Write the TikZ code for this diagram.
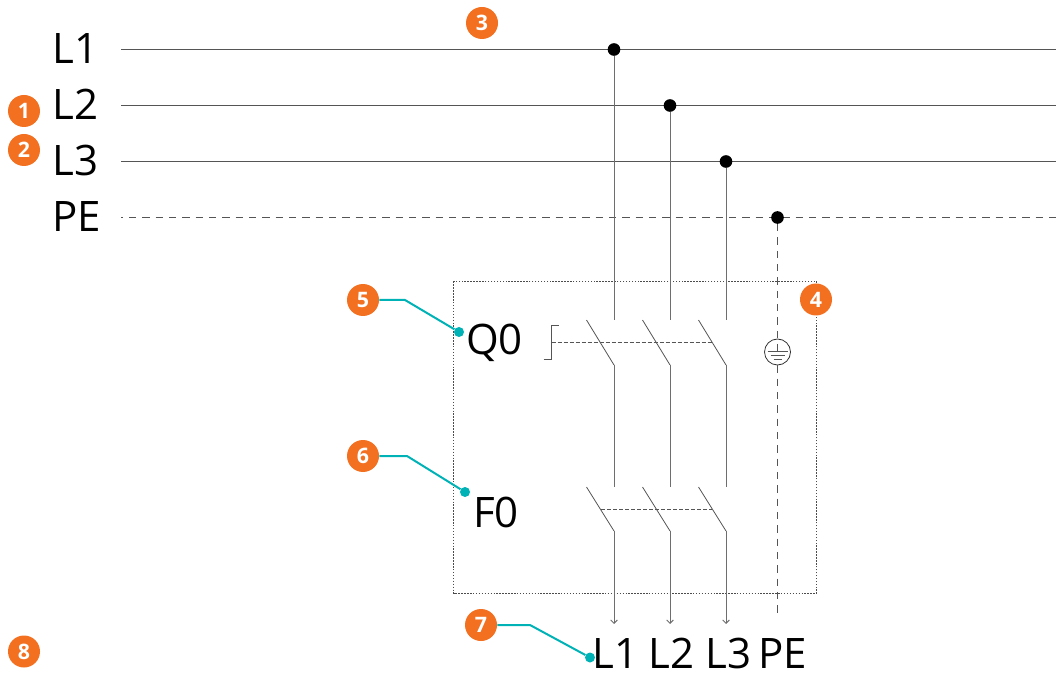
\documentclass[tikz,border=0pt]{standalone}
\usepackage{fontspec}
\setmainfont{Open Sans}
\usetikzlibrary{arrows.meta,calc}
\definecolor{badge}{HTML}{F37021}
\definecolor{teal}{HTML}{00B2B5}
\definecolor{wire}{HTML}{555555}
\tikzset{
  x=0.75pt,y=-0.75pt,
  bus/.style={draw=wire,line width=0.75pt},
  wirel/.style={draw=wire!85,line width=0.75pt},
  blade/.style={draw=wire,line width=0.6pt},
  dashl/.style={draw=wire,line width=0.5pt,dash pattern=on 5.5pt off 4.5pt},
  link/.style={draw=wire,line width=0.5pt,dash pattern=on 3pt off 1.5pt},
  dotl/.style={draw=black!70,line width=0.5pt,dash pattern=on 1.1pt off 1.1pt},
  junction/.style={circle,fill=black,inner sep=0pt,minimum size=9.5pt},
  anchorpt/.style={circle,fill=teal,inner sep=0pt,minimum size=7.5pt},
  badgec/.style={circle,fill=badge,text=white,inner sep=0pt,minimum size=24pt,font=\fontsize{16pt}{16pt}\selectfont\bfseries},
  lead/.style={draw=teal,line width=1.5pt},
  lbl/.style={inner sep=0pt,anchor=base west,text=black,font=\fontsize{31.5pt}{32pt}\selectfont},
}
\begin{document}
\begin{tikzpicture}
\useasboundingbox (0,0) rectangle (1056,673);
% labels
\node[lbl] (tL1) at (52,63.5) {L1};
\node[lbl] (tL2) at (52,119.5) {L2};
\node[lbl] (tL3) at (52,175.5) {L3};
\node[lbl] (tPE) at (52,231.5) {PE};
\node[lbl] (tQ) at (466,354) {Q0};
\node[lbl] (tF) at (473,527) {F0};
\node[lbl] (bL1) at (592,668.5) {L1};
\node[lbl] (bL2) at (648,668.5) {L2};
\node[lbl] (bL3) at (705,668.5) {L3};
\node[lbl] (bPE) at (758,668.5) {PE};
% bus ends
\coordinate (a1) at (121,49.5); \coordinate (b1) at (1056,49.5);
\coordinate (a2) at (121,105.5); \coordinate (b2) at (1056,105.5);
\coordinate (a3) at (121,161.5); \coordinate (b3) at (1056,161.5);
\coordinate (a4) at (121,217.5); \coordinate (b4) at (1056,217.5);
\draw[bus] (a1) -- (b1);
\draw[bus] (a2) -- (b2);
\draw[bus] (a3) -- (b3);
\draw[dashl,dash phase=4pt] (a4) -- (b4);
% enclosure
\draw[dotl] (453.5,281.5) rectangle (816.5,593.5);
% junctions
\node[junction] (j1) at (614,49.5) {};
\node[junction] (j2) at (670,105.5) {};
\node[junction] (j3) at (726,161.5) {};
\node[junction] (j4) at (777.5,217.5) {};
% poles
\foreach \n/\x in {1/614,2/670,3/726}{
  \coordinate (u\n) at (\x,320);
  \coordinate (s\n) at (\x-27.5,320);
  \coordinate (m\n) at (\x,365);
  \coordinate (v\n) at (\x,487);
  \coordinate (t\n) at (\x-27.5,487);
  \coordinate (w\n) at (\x,531);
  \coordinate (e\n) at (\x,624);
  \draw[wirel] (j\n) -- (u\n);
  \draw[blade] (s\n) -- (m\n);
  \draw[wirel] (m\n) -- (v\n);
  \draw[blade] (t\n) -- (w\n);
  \draw[wirel,-{Straight Barb[length=2.5pt,width=5pt]}] (w\n) -- (e\n);
}
% Q0 mechanical link
\coordinate (h1) at (543.5,359.5);
\coordinate (h2) at (551.5,359.5);
\coordinate (h3) at (551.5,325.5);
\coordinate (h4) at (558.5,325.5);
\coordinate (hm) at (551.5,342.5);
\coordinate (hr) at (711.5,342.5);
\draw[blade] (h1) -- (h2) -- (h3) -- (h4);
\draw[link] (hm) -- (hr);
% F0 link
\coordinate (fl) at (601,509.5);
\coordinate (fr) at (711.5,509.5);
\draw[link] (fl) -- (fr);
% PE
\node[circle,draw=black!80,line width=0.6pt,inner sep=0pt,minimum size=19.5pt] (gnd) at (777.5,352) {};
\coordinate (pb) at (777.5,618);
\draw[dashl] (j4) -- (gnd);
\draw[dashl] (gnd) -- (pb);
\coordinate (g0) at (777.5,344);
\coordinate (g1) at (777.5,351);
\draw[blade] (g0) -- (g1);
\draw[blade] (767.5,351.5) -- (787.5,351.5);
\draw[blade] (770.5,355.5) -- (784.5,355.5);
\draw[blade] (773.5,359.5) -- (781.5,359.5);
% badges
\node[badgec] (n1) at (24,111) {1};
\node[badgec] (n2) at (24,150) {2};
\node[badgec] (n3) at (482,23) {3};
\node[badgec] (n4) at (816,299.5) {4};
\node[badgec] (n5) at (363,300) {5};
\node[badgec] (n6) at (363,456) {6};
\node[badgec] (n7) at (481,625) {7};
\node[badgec] (n8) at (24,651.5) {8};
% leaders
\node[anchorpt] (p5) at (459,332) {};
\node[anchorpt] (p6) at (465,492) {};
\node[anchorpt] (p7) at (590,657.5) {};
\coordinate (k5) at (405,300);
\coordinate (k6) at (407,456);
\coordinate (k7) at (530,625);
\draw[lead] (n5) -- (k5) -- (p5);
\draw[lead] (n6) -- (k6) -- (p6);
\draw[lead] (n7) -- (k7) -- (p7);
\end{tikzpicture}
\end{document}
